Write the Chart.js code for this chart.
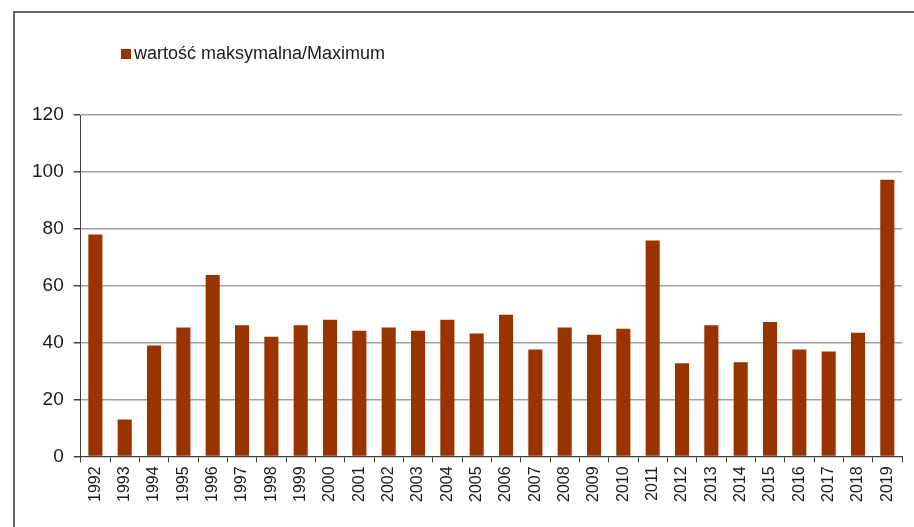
<!DOCTYPE html>
<html>
<head>
<meta charset="utf-8">
<script src="https://cdn.jsdelivr.net/npm/chart.js@4"></script>
<style>
  html, body { margin: 0; padding: 0; background: #fff; overflow: hidden; }
  #wrap { position: relative; width: 914px; height: 527px; }
  #frame {
    position: absolute; left: 13px; top: 11px; width: 920px; height: 540px;
    border: 2px solid #666; box-sizing: border-box;
  }
  #legend {
    position: absolute; left: 121px; top: 43px;
    font-family: "Liberation Sans", Arial, sans-serif; font-size: 18px; color: #1a1a1a;
    white-space: nowrap;
  }
  #legend span.box {
    display: inline-block; width: 10px; height: 10px; background: #993300;
    margin-right: 3px; vertical-align: 0px;
  }
  canvas { position: absolute; left: 0; top: 0; }
</style>
</head>
<body>
<div id="wrap">
  <canvas id="chart" width="914" height="527"></canvas>
  <div id="frame"></div>
  <div id="legend"><span class="box"></span>wartość maksymalna/Maximum</div>
</div>
<script>
const years = ["1992", "1993", "1994", "1995", "1996", "1997", "1998", "1999", "2000",
  "2001", "2002", "2003", "2004", "2005", "2006", "2007", "2008", "2009", "2010",
  "2011", "2012", "2013", "2014", "2015", "2016", "2017", "2018", "2019"];
const maxValues = [78, 13, 39, 45.3, 63.8, 46.1, 42.1, 46.1, 48, 44.2, 45.3, 44.2, 48, 43.2,
  49.8, 37.6, 45.3, 42.8, 44.9, 75.9, 32.7, 46.1, 33.1, 47.2, 37.6, 36.9, 43.5, 97.2];
const seriesName = "wartość maksymalna/Maximum";
const yTicks = [0, 20, 40, 60, 80, 100, 120];

const ctx = document.getElementById("chart");

// bar chart, legend is the html div above
const chart = new Chart(ctx, {
  type: "bar",
  data: {
    labels: years,
    datasets: [{
      label: seriesName,
      data: maxValues,
      backgroundColor: "#993300",
      borderWidth: 0,
      barPercentage: 0.48,
      categoryPercentage: 1,
    }],
  },
  options: {
    responsive: false,
    animation: false,
    layout: { padding: { left: 22, right: 12, top: 115, bottom: 21 } },
    plugins: {
      legend: { display: false },
      tooltip: { enabled: false },
    },
    scales: {
      x: {
        grid: {
          offset: true,
          drawOnChartArea: false,
          drawTicks: true,
          tickLength: 6,
          tickColor: "#404040",
        },
        border: { color: "#404040", width: 1 },
        ticks: {
          minRotation: 90,
          maxRotation: 90,
          autoSkip: false,
          padding: 4,
          color: "#1a1a1a",
          font: { family: "'Liberation Sans', Arial, sans-serif", size: 16 },
        },
      },
      y: {
        min: 0,
        max: 120,
        afterBuildTicks: (axis) => { axis.ticks = yTicks.map(v => ({ value: v })); },
        grid: {
          color: "#a0a0a0",
          lineWidth: 1.5,
          tickLength: 7,
          tickColor: "#404040",
        },
        border: { color: "#404040", width: 1 },
        ticks: {
          padding: 10,
          color: "#1a1a1a",
          font: { family: "'Liberation Sans', Arial, sans-serif", size: 19 },
        },
      },
    },
  },
});
</script>
</body>
</html>
